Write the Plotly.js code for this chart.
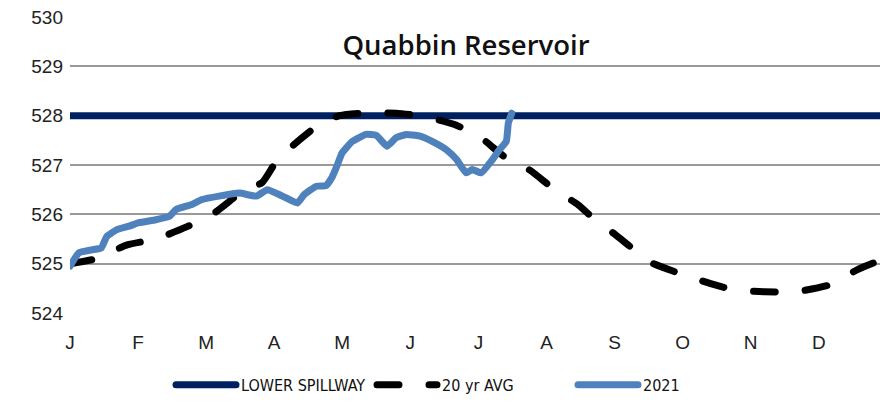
<!DOCTYPE html>
<html>
<head>
<meta charset="utf-8">
<script src="https://cdn.plot.ly/plotly-3.0.1.min.js"></script>
<style>
html,body{margin:0;padding:0;background:#fff;}
#chart{width:880px;height:402px;}
path.js-line{stroke-linecap:round !important;stroke-linejoin:round !important;}
</style>
</head>
<body>
<div id="chart"></div>
<script>
// Month labels (tick positions are month indices 0..11)
const monthLabels = ["J","F","M","A","M","J","J","A","S","O","N","D"];
const monthIndex = [0,1,2,3,4,5,6,7,8,9,10,11];

// Lower spillway elevation (ft)
const spillwayX = [0, 12];
const spillwayY = [528, 528];

// 20 yr average (x in fractional months from Jan 1)
const avgX = [0.00,0.38,0.84,1.26,1.72,2.09,2.59,2.82,3.03,3.32,3.69,3.96,4.29,4.79,5.21,5.65,6.04,6.38,6.75,7.12,7.46,7.68,8.00,8.29,8.54,8.96,9.40,9.76,10.21,10.65,11.16,11.57,11.85];
const avgY = [525.00,525.10,525.38,525.50,525.75,526.00,526.52,526.64,527.07,527.45,527.85,528.00,528.05,528.05,527.98,527.82,527.55,527.17,526.90,526.50,526.20,525.93,525.60,525.28,525.02,524.80,524.60,524.47,524.43,524.43,524.57,524.88,525.04];

// 2021
const y2021X = [0.00,0.13,0.32,0.46,0.54,0.69,0.87,1.01,1.26,1.46,1.56,1.79,1.94,2.19,2.49,2.74,2.90,3.12,3.34,3.44,3.62,3.76,3.85,3.91,4.00,4.15,4.35,4.50,4.66,4.79,4.94,5.13,5.32,5.53,5.68,5.82,5.91,6.04,6.19,6.31,6.41,6.44,6.49];
const y2021Y = [524.95,525.22,525.28,525.32,525.55,525.69,525.76,525.83,525.89,525.96,526.10,526.20,526.30,526.37,526.43,526.37,526.50,526.37,526.23,526.40,526.57,526.58,526.75,526.94,527.25,527.48,527.62,527.60,527.38,527.55,527.62,527.59,527.48,527.31,527.11,526.84,526.91,526.84,527.08,527.31,527.48,527.85,528.05];

const FONT = '"Liberation Sans", Arial, sans-serif';
const NARROW = '"Liberation Sans Narrow", "DejaVu Sans Condensed", "Liberation Sans", sans-serif';

const traces = [
  {x: spillwayX, y: spillwayY, name: "LOWER SPILLWAY", mode: "lines",
   line: {color: "#002060", width: 7}},
  {x: avgX, y: avgY, name: "20 yr AVG", mode: "lines",
   line: {color: "#000000", width: 7, dash: "22px,30px", shape: "spline", smoothing: 0.6}},
  {x: y2021X, y: y2021Y, name: "2021", mode: "lines",
   line: {color: "#4F81BD", width: 7, shape: "spline", smoothing: 0.4}}
];

const layout = {
  width: 880, height: 402,
  margin: {l: 70, r: 0, t: 17, b: 89},
  paper_bgcolor: "#ffffff", plot_bgcolor: "#ffffff",
  showlegend: true,
  title: {text: "Quabbin Reservoir", x: 466/880, xanchor: "center", xref: "container",
          y: 1 - 45/402, yanchor: "middle", yref: "container",
          font: {family: '"Open Sans", sans-serif', size: 27.5, color: "#111", weight: 600}},
  xaxis: {range: [0, 11.9], tickvals: monthIndex, ticktext: monthLabels,
          showgrid: false, zeroline: false, showline: false, ticks: "",
          ticklabelstandoff: 16,
          tickfont: {family: FONT, size: 19, color: "#222"}},
  yaxis: {range: [524, 530], dtick: 1, tick0: 524, showgrid: true, gridcolor: "#999999", gridwidth: 2,
          zeroline: false, showline: false, ticks: "", ticklabelstandoff: 6,
          tickfont: {family: FONT, size: 19, color: "#222"}},
  legend: {orientation: "h", x: (171-70)/810, xanchor: "left", y: -0.243, yanchor: "middle",
           itemwidth: 60, traceorder: "normal", entrywidth: 126, entrywidthmode: "pixels",
           font: {family: NARROW, size: 16, color: "#111"}}
};

Plotly.newPlot("chart", traces, layout, {displayModeBar: false, staticPlot: true});
</script>
</body>
</html>
